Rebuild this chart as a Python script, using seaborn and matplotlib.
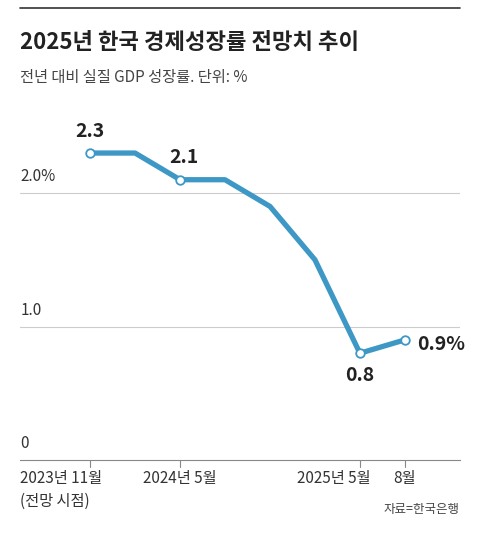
import matplotlib
matplotlib.use("Agg")
import matplotlib.pyplot as plt
import seaborn as sns
import pandas as pd

sns.set_style("white")
plt.rcParams['font.family'] = ['Noto Sans CJK KR', 'DejaVu Sans']

# months since 2023-11
months = [0, 3, 6, 9, 12, 15, 18, 21]
growth = [2.3, 2.3, 2.1, 2.1, 1.9, 1.5, 0.8, 0.9]
marked = [0, 6, 18, 21]
tick_pos = [0, 6, 18, 21]
tick_labels = ['2023년 11월', '2024년 5월', '2025년 5월', '8월']
ytick_vals = [0, 1.0, 2.0]
ytick_labels = ['0', '1.0', '2.0%']

df = pd.DataFrame({'m': months, 'g': growth})
blue = '#3d98c6'

fig = plt.figure(figsize=(4.8, 5.33), dpi=100)
ax = fig.add_axes([0.042, 0.137, 0.916, 0.651])
sns.lineplot(data=df, x='m', y='g', color=blue, lw=3.8, ax=ax, solid_capstyle='round')
mk = df[df.m.isin(marked)]
ax.scatter(mk.m, mk.g, s=38, facecolor='white', edgecolor=blue, linewidth=1.3, zorder=5)

# x range: 20px..460px, 15px per month
ax.set_xlim(-70/15, 370/15)
ax.set_ylim(0, 2.6)
for v in ytick_vals[1:]:
    ax.axhline(v, color='#cccccc', lw=0.8, zorder=0)
for s in ['top', 'right', 'left']:
    ax.spines[s].set_visible(False)
ax.spines['bottom'].set_color('#888888')
ax.set_xticks([]); ax.set_yticks([])
ax.set_xlabel(''); ax.set_ylabel('')

tr = ax.get_yaxis_transform()
for v, lab in zip(ytick_vals, ytick_labels):
    ax.text(0.0, v + 0.06, lab, transform=tr, ha='left', va='bottom', fontsize=11, color='#333333')

xt = ax.get_xaxis_transform()
for p in tick_pos:
    ax.plot([p, p], [0, -0.02], transform=xt, color='#888888', lw=0.8, clip_on=False)
pos = {0: (-70/15, 'left'), 6: (0.0, 'center'), 18: (0.7, 'right'), 21: (0.0, 'center')}
for p, lab in zip(tick_pos, tick_labels):
    dx, h = pos[p]
    x = dx if p == 0 else p + dx
    ax.text(x, -0.03, lab, transform=xt, ha=h, va='top', fontsize=11, color='#333333')
ax.text(-70/15, -0.095, '(전망 시점)', transform=xt, ha='left', va='top', fontsize=11, color='#333333')

lab_kw = dict(textcoords='offset points', fontsize=14, fontweight='bold', color='#222222')
ax.annotate('2.3', (0, 2.3), xytext=(0, 9), ha='center', va='bottom', **lab_kw)
ax.annotate('2.1', (6, 2.1), xytext=(3, 9), ha='center', va='bottom', **lab_kw)
ax.annotate('0.8', (18, 0.8), xytext=(0, -9), ha='center', va='top', **lab_kw)
ax.annotate('0.9%', (21, 0.9), xytext=(9, -3), ha='left', va='center', **lab_kw)

fig.add_artist(plt.Line2D([0.042, 0.958], [0.985, 0.985], color='#333333', lw=1.2))
fig.text(0.042, 0.92, '2025년 한국 경제성장률 전망치 추이', fontsize=16, fontweight='bold',
         ha='left', va='center', color='#222222')
fig.text(0.042, 0.855, '전년 대비 실질 GDP 성장률. 단위: %', fontsize=11, ha='left', va='center',
         color='#444444')
fig.text(0.958, 0.045, '자료=한국은행', fontsize=9, ha='right', va='center', color='#444444')

fig.savefig('out.png', dpi=100)
